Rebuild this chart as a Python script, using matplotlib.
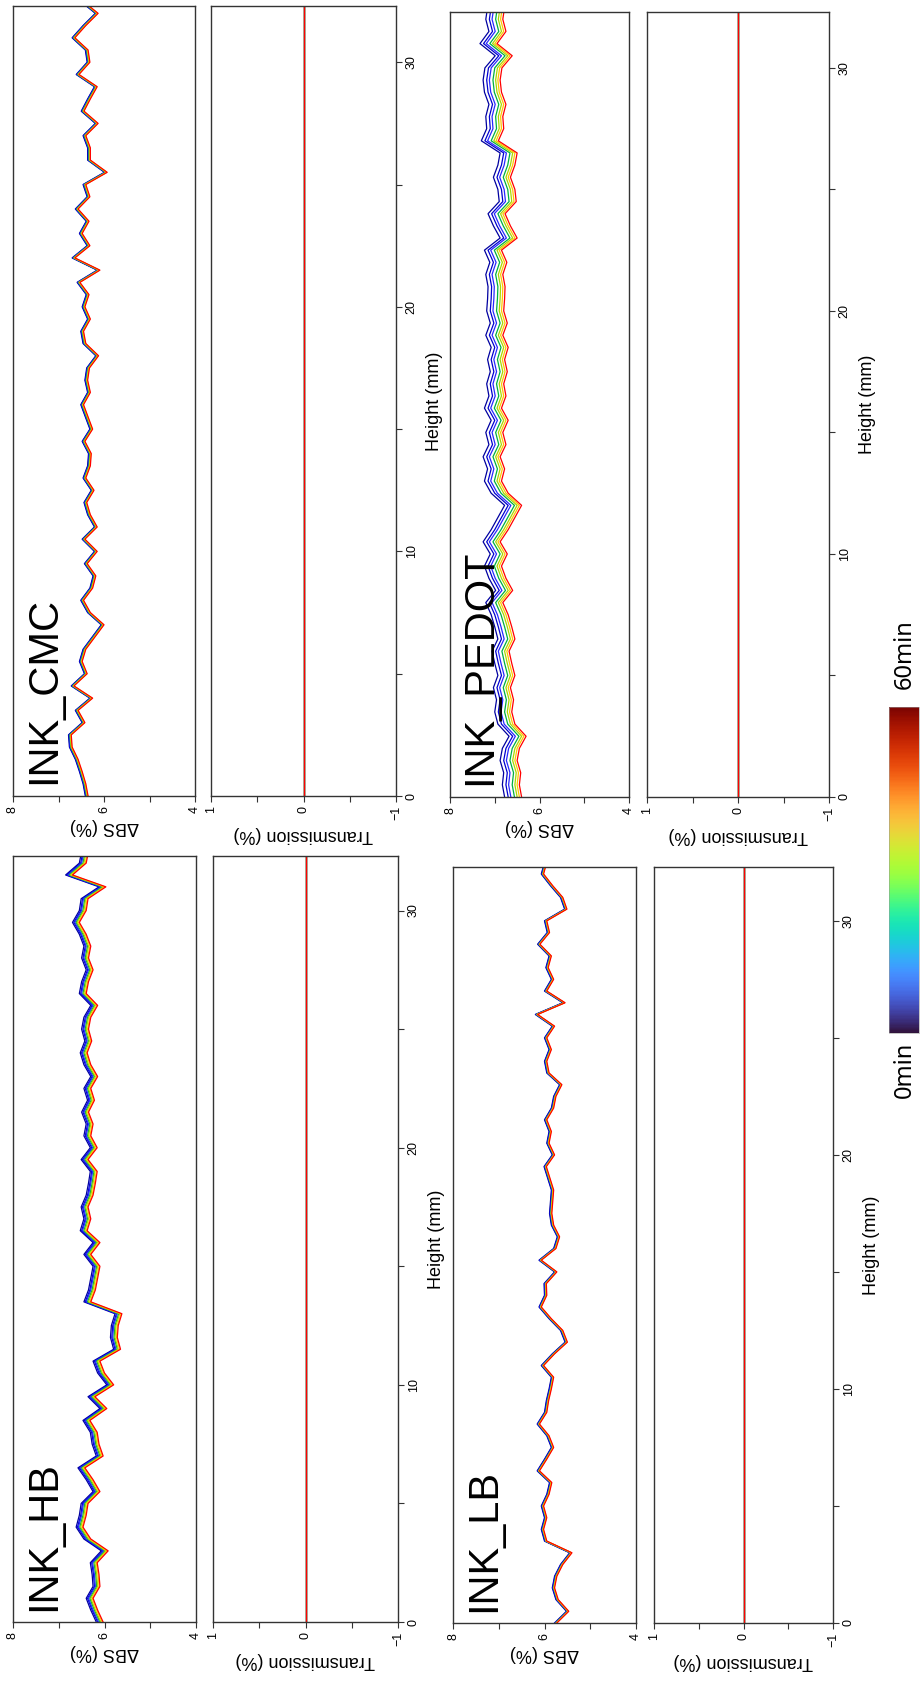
import numpy as np
import matplotlib
matplotlib.use('Agg')
import matplotlib.pyplot as plt
from matplotlib.colors import Normalize
from matplotlib.colorbar import ColorbarBase

plt.rcParams['font.family'] = ['Liberation Sans', 'DejaVu Sans']

# sample heights along the vial (mm), one reading every 0.5 mm
heights = np.arange(0, 32.6, 0.5)

# Delta-backscattering of the last scan (60 min), in %
bs_cmc = [6.35, 6.40, 6.48, 6.57, 6.70, 6.72, 6.42, 6.57, 6.25, 6.66,
          6.37, 6.48, 6.40, 6.20, 6.00, 6.30, 6.45, 6.25, 6.18, 6.37,
          6.15, 6.42, 6.15, 6.30, 6.38, 6.22, 6.40, 6.30, 6.28, 6.42,
          6.25, 6.35, 6.45, 6.30, 6.36, 6.32, 6.12, 6.40, 6.45, 6.30,
          6.42, 6.33, 6.53, 6.09, 6.64, 6.31, 6.48, 6.33, 6.57, 6.31,
          6.40, 5.93, 6.30, 6.30, 6.40, 6.13, 6.44, 6.30, 6.15, 6.55,
          6.31, 6.35, 6.64, 6.40, 6.13, 6.46]
bs_pedot = [6.40, 6.45, 6.42, 6.50, 6.45, 6.30, 6.55, 6.62, 6.58, 6.65,
            6.55, 6.62, 6.68, 6.55, 6.62, 6.70, 6.82, 6.60, 6.75, 6.85,
            6.72, 6.88, 6.70, 6.55, 6.40, 6.70, 6.85, 6.78, 6.88, 6.75,
            6.82, 6.70, 6.85, 6.75, 6.80, 6.72, 6.78, 6.70, 6.82, 6.72,
            6.80, 6.78, 6.77, 6.82, 6.73, 6.85, 6.50, 6.65, 6.77, 6.52,
            6.55, 6.65, 6.55, 6.50, 6.92, 6.80, 6.82, 6.75, 6.85, 6.88,
            6.84, 6.61, 6.95, 6.75, 6.82, 6.78]
bs_hb = [6.03, 6.15, 6.25, 6.10, 6.12, 6.16, 5.92, 6.30, 6.47, 6.40,
         6.36, 6.10, 6.25, 6.43, 6.03, 6.12, 6.16, 6.32, 5.95, 6.21,
         5.80, 6.00, 6.10, 5.65, 5.72, 5.70, 5.62, 6.30, 6.20, 6.15,
         6.10, 6.30, 6.10, 6.38, 6.30, 6.36, 6.25, 6.20, 6.16, 6.36,
         6.16, 6.30, 6.25, 6.35, 6.22, 6.30, 6.15, 6.30, 6.38, 6.28,
         6.35, 6.30, 6.15, 6.40, 6.35, 6.25, 6.35, 6.30, 6.40, 6.55,
         6.40, 6.36, 5.97, 6.70, 6.40, 6.35]
bs_lb = [5.73, 5.47, 5.70, 5.78, 5.73, 5.60, 5.40, 5.95, 6.02, 5.95,
         6.02, 5.90, 5.84, 6.11, 5.95, 5.80, 5.90, 6.11, 5.95, 5.91,
         5.85, 5.80, 6.02, 5.78, 5.50, 5.60, 5.85, 6.07, 5.95, 5.96,
         5.73, 6.07, 5.75, 5.67, 5.80, 5.84, 5.82, 5.80, 5.88, 5.96,
         5.78, 5.90, 5.85, 5.95, 5.80, 5.75, 5.62, 5.90, 5.95, 5.85,
         5.95, 5.78, 6.15, 5.55, 5.95, 5.80, 5.92, 5.85, 6.10, 5.89,
         5.95, 5.51, 5.60, 5.82, 6.02, 5.95]

# scans: 0 min -> 60 min, and how far above the last scan each one sits (%)
scan_minutes = [0, 10, 20, 30, 40, 50, 60]
scan_colors = ['#0000a0', '#0000d0', '#2828ff', '#00b040', '#a8d800', '#ffc800', '#ff0000']
shift_cmc = [0.06, 0.05, 0.04, 0.03, 0.02, 0.01, 0.0]
shift_pedot = [0.38, 0.30, 0.24, 0.16, 0.10, 0.05, 0.0]
shift_hb = [0.15, 0.12, 0.10, 0.07, 0.05, 0.02, 0.0]
shift_lb = [0.05, 0.04, 0.03, 0.02, 0.015, 0.01, 0.0]

# transmission stays at 0 % for every sample and scan
transmission = [0.0, 0.0, 0.0, 0.0, 0.0, 0.0, 0.0]

W, H = 922, 1703
fig = plt.figure(figsize=(W / 100, H / 100), dpi=100)


def rect(x0, x1, ytop, ybot):
    return [x0 / W, 1 - ybot / H, (x1 - x0) / W, (ybot - ytop) / H]


# pixel boxes: (bs left, bs right, tr left, tr right, top, bottom)
layout = {
    'INK_CMC': (13, 195, 211, 396, 6, 796),
    'INK_PEDOT': (450, 629, 647, 829, 12, 797),
    'INK_HB': (13, 196, 213, 398, 856, 1622),
    'INK_LB': (453, 636, 654, 833, 867, 1623),
}
samples = {
    'INK_CMC': (bs_cmc, shift_cmc),
    'INK_PEDOT': (bs_pedot, shift_pedot),
    'INK_HB': (bs_hb, shift_hb),
    'INK_LB': (bs_lb, shift_lb),
}

frame = '#333333'


def style(ax):
    for s in ax.spines.values():
        s.set_color(frame)
        s.set_linewidth(1.0)
    ax.tick_params(colors=frame, labelcolor='black', direction='out',
                   length=4, width=0.8, labelsize=9, pad=3)


for name, (bs, shift) in samples.items():
    x0, x1, x2, x3, yt, yb = layout[name]
    ax_bs = fig.add_axes(rect(x0, x1, yt, yb))
    ax_tr = fig.add_axes(rect(x2, x3, yt, yb))

    for k in range(len(scan_minutes)):
        ax_bs.plot(np.array(bs) + shift[k], heights, color=scan_colors[k], lw=0.9)
        ax_tr.plot(np.full(len(heights), transmission[k]), heights,
                   color=scan_colors[k], lw=0.9)

    ax_bs.set_xlim(8, 4)
    ax_bs.set_ylim(0, 32.3)
    ax_bs.set_xticks([8, 7, 6, 5, 4])
    ax_bs.set_xticklabels(['8', '', '6', '', '4'], rotation=90)
    ax_bs.set_yticks([])
    style(ax_bs)
    ax_bs.set_xlabel('ΔBS (%)', rotation=180, fontsize=13, labelpad=4)
    ax_bs.text(0.17, 0.015, name, transform=ax_bs.transAxes, rotation=90,
               ha='center', va='bottom', fontsize=30,
               family=['Liberation Sans Narrow', 'Liberation Sans'])

    ax_tr.set_xlim(1, -1)
    ax_tr.set_ylim(0, 32.3)
    ax_tr.set_xticks([1, 0.5, 0, -0.5, -1])
    ax_tr.set_xticklabels(['1', '', '0', '', '\u22121'], rotation=90)
    ax_tr.yaxis.tick_right()
    ax_tr.yaxis.set_label_position('right')
    ax_tr.set_yticks([0, 5, 10, 15, 20, 25, 30])
    ax_tr.set_yticklabels(['0', '', '10', '', '20', '', '30'], rotation=90, va='center')
    style(ax_tr)
    ax_tr.set_xlabel('Transmission (%)', rotation=180, fontsize=13, labelpad=4)
    ax_tr.set_ylabel('Height (mm)', rotation=90, fontsize=13, labelpad=6)

# colour scale for the scan time
cax = fig.add_axes(rect(889, 919, 707, 1033))
cb = ColorbarBase(cax, cmap='turbo', norm=Normalize(0, 60), orientation='vertical')
cb.set_ticks([])
cb.outline.set_linewidth(0.4)
cb.outline.set_edgecolor('#999999')
fig.text(905 / W, 1 - 654 / H, '60min', rotation=90, ha='center', va='center',
         fontsize=17, family=['Noto Sans', 'DejaVu Sans'])
fig.text(905 / W, 1 - 1070 / H, '0min', rotation=90, ha='center', va='center',
         fontsize=17, family=['Noto Sans', 'DejaVu Sans'])

fig.savefig('out.png', dpi=100)
